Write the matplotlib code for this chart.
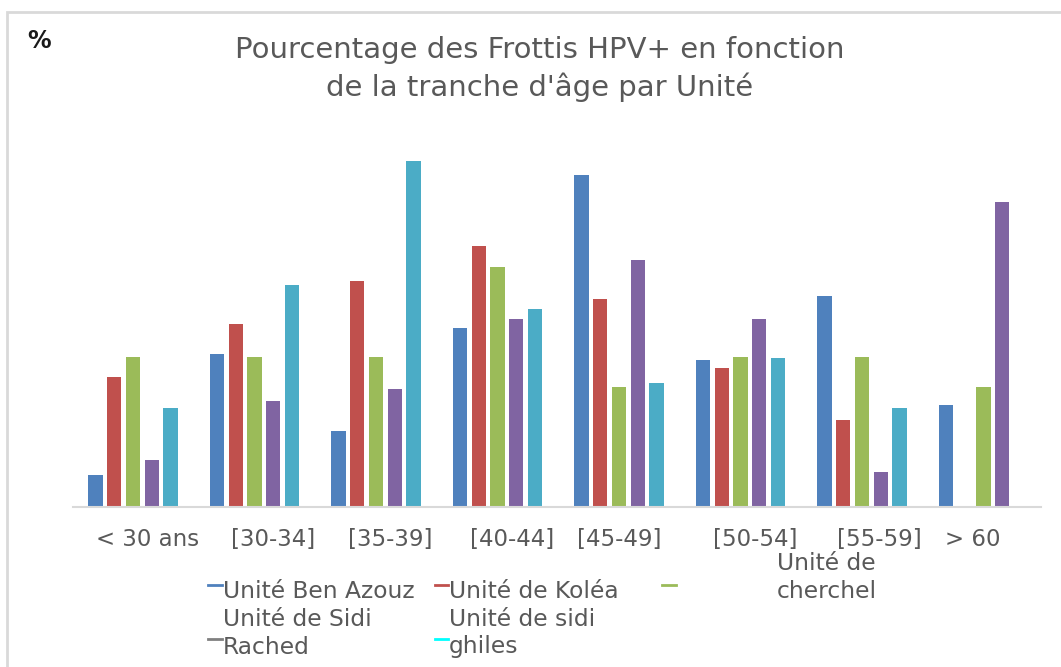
import numpy as np
import matplotlib
matplotlib.use("Agg")
import matplotlib.pyplot as plt
from matplotlib.lines import Line2D
from matplotlib.patches import Rectangle

# data (percent)
categories = ["< 30 ans", "[30-34]", "[35-39]", "[40-44]", "[45-49]", "[50-54]", "[55-59]", "> 60"]
ben_azouz = [5.3, 25.5, 12.7, 29.8, 55.3, 24.5, 35.2, 17.0]
kolea = [21.7, 30.5, 37.7, 43.5, 34.7, 23.2, 14.5, 0.0]
cherchel = [25.0, 25.0, 25.0, 40.0, 20.0, 25.0, 25.0, 20.0]
sidi_rached = [7.8, 17.7, 19.7, 31.3, 41.2, 31.3, 5.8, 50.8]
sidi_ghiles = [16.5, 37.0, 57.7, 33.0, 20.7, 24.8, 16.5, 0.0]

series = [ben_azouz, kolea, cherchel, sidi_rached, sidi_ghiles]
colors = ["#4F81BD", "#C0504D", "#9BBB59", "#8064A2", "#4BACC6"]

W, H = 1061, 667
fig = plt.figure(figsize=(W / 100, H / 100), dpi=100)


def fx(x):
    return x / W


def fy(y):
    return 1 - y / H


ax = fig.add_axes([fx(73), fy(507), fx(1041) - fx(73), fy(150) - fy(507)])

x = np.arange(len(categories))
step = 0.154
width = 0.118
for i, (vals, c) in enumerate(zip(series, colors)):
    ax.bar(x + (i - 2) * step, vals, width=width, color=c)

ax.set_xlim(-0.494, 7.473)
ax.set_ylim(0, 59.5)
for s in ["top", "right", "left"]:
    ax.spines[s].set_visible(False)
ax.spines["bottom"].set_color("#d9d9d9")
ax.spines["bottom"].set_linewidth(1.5)
ax.set_yticks([])

# labels sit a bit off the group centres in the original
label_shift = [0.12, 0.15, 0.12, 0.12, 0.0, 0.12, 0.14, -0.09]
ax.set_xticks(x + np.array(label_shift))
ax.set_xticklabels(categories, fontsize=16.5, color="#595959")
ax.tick_params(axis="x", length=0, pad=15)

# title and % label
fig.text(fx(540), fy(50), "Pourcentage des Frottis HPV+ en fonction", ha="center", va="center",
         fontsize=21, color="#595959")
fig.text(fx(540), fy(87), "de la tranche d'âge par Unité", ha="center", va="center",
         fontsize=21, color="#595959")
fig.text(fx(27), fy(41), "%", ha="left", va="center", fontsize=17, fontweight="bold", color="#1a1a1a")

# hand-built legend, wrapped like the original
leg_color = "#595959"
leg_fs = 16.8


def marker(x0, x1, y, c):
    fig.add_artist(Line2D([fx(x0), fx(x1)], [fy(y), fy(y)], color=c, lw=2,
                          transform=fig.transFigure))


marker(208, 222, 585, colors[0])
fig.text(fx(223), fy(592), "Unité Ben Azouz", va="center", fontsize=leg_fs, color=leg_color)
marker(435, 448, 585, colors[1])
fig.text(fx(449), fy(592), "Unité de Koléa", va="center", fontsize=leg_fs, color=leg_color)
marker(662, 676, 585, colors[2])
fig.text(fx(777), fy(564), "Unité de", va="center", fontsize=leg_fs, color=leg_color)
fig.text(fx(777), fy(591), "cherchel", va="center", fontsize=leg_fs, color=leg_color)
marker(208, 222, 639, "#808080")
fig.text(fx(223), fy(620), "Unité de Sidi", va="center", fontsize=leg_fs, color=leg_color)
fig.text(fx(223), fy(647), "Rached", va="center", fontsize=leg_fs, color=leg_color)
marker(435, 448, 639, "#00FFFF")
fig.text(fx(449), fy(620), "Unité de sidi", va="center", fontsize=leg_fs, color=leg_color)
fig.text(fx(449), fy(647), "ghiles", va="center", fontsize=leg_fs, color=leg_color)

# light frame around the chart area
fig.add_artist(Rectangle((fx(7), fy(700)), fx(1100), fy(12) - fy(700), fill=False,
                         edgecolor="#d9d9d9", lw=2, transform=fig.transFigure))

fig.savefig("out.png", dpi=100)
